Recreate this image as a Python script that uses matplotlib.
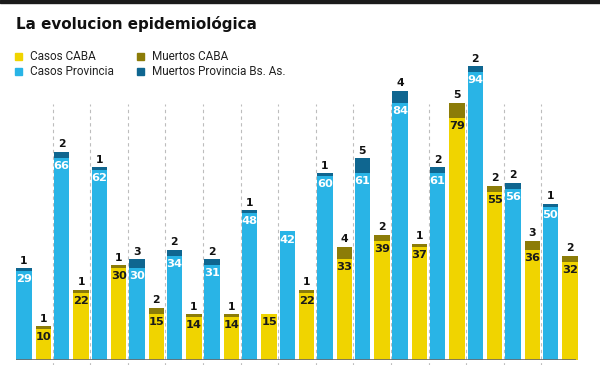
import matplotlib
matplotlib.use("Agg")
import matplotlib.pyplot as plt
from matplotlib.patches import Rectangle
import numpy as np

casos_prov = [29, 66, 62, 30, 34, 31, 48, 42, 60, 61, 84, 61, 94, 56, 50]
muertos_prov = [1, 2, 1, 3, 2, 2, 1, 0, 1, 5, 4, 2, 2, 2, 1]
casos_caba = [10, 22, 30, 15, 14, 14, 15, 22, 33, 39, 37, 79, 55, 36, 32]
muertos_caba = [1, 1, 1, 2, 1, 1, 0, 1, 4, 2, 1, 5, 2, 3, 2]

legend_labels = ["Casos CABA", "Casos Provincia", "Muertos CABA", "Muertos Provincia Bs. As."]
title = "La evolucion epidemiológica"

C_YEL = "#f0d400"
C_BLUE = "#29b4e6"
C_OLIVE = "#8c7c08"
C_DBLUE = "#0f6690"

W, H = 600, 365
fig = plt.figure(figsize=(6, 3.65), dpi=100)
fig.patch.set_facecolor("white")

def fx(px):
    return px / W

def fy(py):
    return 1 - py / H

# top black band
fig.patches.append(Rectangle((0, fy(2.5)), 1, 2.5 / H, transform=fig.transFigure,
                             color="#1a1a1a", zorder=10))

fig.text(fx(16), fy(28.5), title, fontsize=10.9, fontweight="bold",
         family=["DejaVu Sans"], color="#111111", va="baseline")

leg_colors = [C_YEL, C_BLUE, C_OLIVE, C_DBLUE]
leg_pos = [(15, 56.5), (15, 71.5), (137, 56.5), (137, 71.5)]
for lab, col, (lx, ly) in zip(legend_labels, leg_colors, leg_pos):
    fig.patches.append(Rectangle((fx(lx), fy(ly + 3.5)), 7 / W, 7 / H,
                                 transform=fig.transFigure, color=col))
    fig.text(fx(lx + 14.5), fy(ly), lab, fontsize=8.5, family=["Roboto", "DejaVu Sans"],
             color="#222222", va="center")

ax = fig.add_axes([15 / W, 5 / H, 564 / W, 306 / H])
ax.set_xlim(0, 15)
ax.set_ylim(0, 100)
ax.axis("off")

n = len(casos_prov)
idx = np.arange(n)
xb = idx + 0.24
xy = idx + 0.76
bw = 0.41

ax.vlines(np.arange(1, n), -2, 83.5, colors="#bdbdbd", linestyles=(0, (3, 3)),
          linewidth=0.8, clip_on=False, zorder=0)

ax.bar(xb, casos_prov, bw, color=C_BLUE, zorder=2)
ax.bar(xb, muertos_prov, bw, bottom=casos_prov, color=C_DBLUE, zorder=2)
ax.bar(xy, casos_caba, bw, color=C_YEL, zorder=2)
ax.bar(xy, muertos_caba, bw, bottom=casos_caba, color=C_OLIVE, zorder=2)

ax.hlines(0, 0.03, 14.93, colors="#6a6a6a", linewidth=1.2, zorder=3)

numfont = dict(fontweight="bold", family=["DejaVu Sans"], ha="center")
for xs, cs, ms, ccol in [(xb, casos_prov, muertos_prov, "white"),
                         (xy, casos_caba, muertos_caba, "#1a1a1a")]:
    for x, c, m in zip(xs, cs, ms):
        ax.annotate(str(c), (x, c), xytext=(0, -2.2), textcoords="offset points",
                    va="top", fontsize=8.2, color=ccol, zorder=4, **numfont)
        if m > 0:
            ax.annotate(str(m), (x, c + m), xytext=(0, 1.8), textcoords="offset points",
                        va="bottom", fontsize=7.8, color="#111111", zorder=4, **numfont)

fig.savefig("out.png", dpi=100, facecolor="white")
